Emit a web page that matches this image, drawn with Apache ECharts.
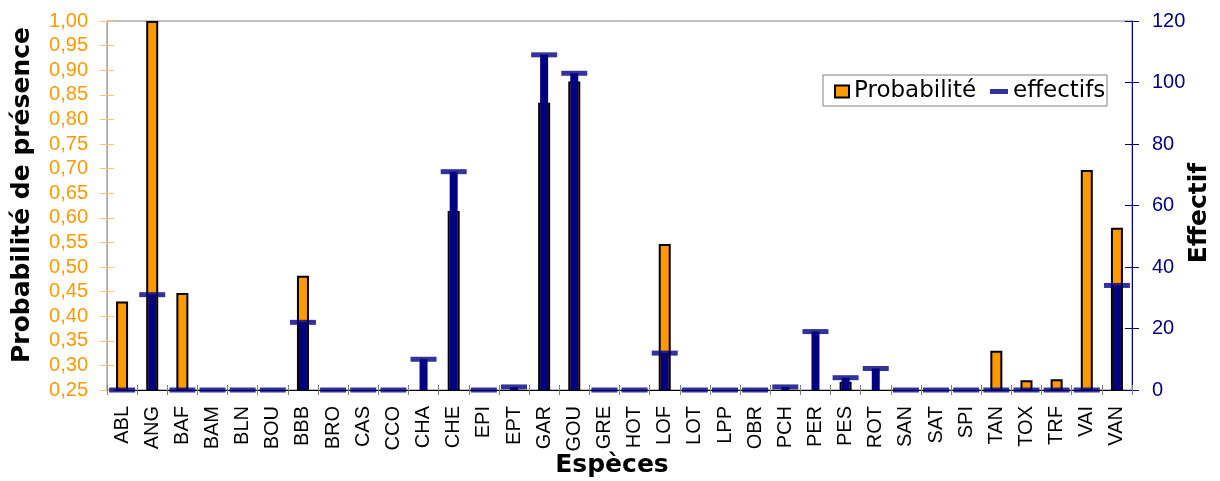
<!DOCTYPE html>
<html>
<head>
<meta charset="utf-8">
<script src="https://cdn.jsdelivr.net/npm/echarts@6/dist/echarts.min.js"></script>
<style>
html,body{margin:0;padding:0;background:#fff;}
#c{width:1220px;height:481px;}
</style>
</head>
<body>
<div id="c"></div>
<script>
var categories = ['ABL','ANG','BAF','BAM','BLN','BOU','BBB','BRO','CAS','CCO','CHA','CHE','EPI','EPT','GAR','GOU','GRE','HOT','LOF','LOT','LPP','OBR','PCH','PER','PES','ROT','SAN','SAT','SPI','TAN','TOX','TRF','VAI','VAN'];
var probabilite = [0.43,1.00,0.447,0,0,0,0.482,0,0,0,0.252,0.614,0,0.252,0.834,0.877,0,0,0.547,0,0,0,0.252,0.252,0.267,0.252,0,0,0,0.33,0.27,0.272,0.697,0.58];
var effectifs = [0,31,0,0,0,0,22,0,0,0,10,71,0,1,109,103,0,0,12,0,0,0,1,19,4,7,0,0,0,0,0,0,0,34];
var leftAxis = {min:0.25, max:1.00, step:0.05};
var rightAxis = {min:0, max:120, step:20};

var ORANGE = '#FF9900', NAVY = '#000080';
var tickFont = 'Liberation Sans, Arial, sans-serif';
var titleFont = 'DejaVu Sans, sans-serif';

var chart = echarts.init(document.getElementById('c'), null, {renderer:'canvas'});
chart.setOption({
  animation:false,
  backgroundColor:'#fff',
  grid:{left:107, right:88, top:21, bottom:91, show:true, borderColor:'#808080', borderWidth:1, backgroundColor:'transparent'},
  legend:[
    {data:[{name:'Probabilité', icon:'rect'}], left:834, top:80, padding:0, itemWidth:14, itemHeight:12,
     textStyle:{fontFamily:titleFont, fontSize:23, color:'#000'}, selectedMode:false},
    {data:[{name:'effectifs', icon:'rect'}], left:990, top:80, padding:0, itemWidth:18, itemHeight:5,
     textStyle:{fontFamily:titleFont, fontSize:23, color:'#000'}, selectedMode:false}
  ],
  graphic:[
    {type:'rect', z:-1, shape:{x:823, y:75, width:284, height:31}, style:{fill:'#fff', stroke:'#808080', lineWidth:1}},
    {type:'text', x:22, y:195, rotation:Math.PI/2, style:{text:'Probabilité de présence', font:'bold 25px DejaVu Sans', fill:'#000', textAlign:'center', textVerticalAlign:'middle'}},
    {type:'text', x:1199, y:213, rotation:Math.PI/2, style:{text:'Effectif', font:'bold 25px DejaVu Sans', fill:'#000', textAlign:'center', textVerticalAlign:'middle'}},
    {type:'text', x:612, y:465, style:{text:'Espèces', font:'bold 25px DejaVu Sans', fill:'#000', textAlign:'center', textVerticalAlign:'middle'}}
  ],
  xAxis:[
    {type:'category', data:categories, position:'bottom',
     axisLine:{show:true, lineStyle:{color:'#000', width:1}},
     axisTick:{show:true, alignWithLabel:false, interval:0, length:5, lineStyle:{color:'#808080'}},
     axisLabel:{interval:0, rotate:90, margin:16, fontFamily:tickFont, fontSize:20, color:'#000'}},
    {type:'category', data:categories, position:'bottom',
     axisLine:{show:false},
     axisTick:{show:true, inside:true, interval:0, length:5, lineStyle:{color:'#808080'}},
     axisLabel:{show:false}}
  ],
  yAxis:[
    {type:'value', position:'left', min:leftAxis.min, max:leftAxis.max, interval:leftAxis.step,
     axisLine:{show:true, lineStyle:{color:'#A8A8A8'}},
     axisTick:{show:true, length:7, lineStyle:{color:'#FFC46B'}},
     axisLabel:{margin:19, fontFamily:tickFont, fontSize:20, color:ORANGE, formatter:function(v){return v.toFixed(2).replace('.',',');}},
     splitLine:{show:false}},
    {type:'value', position:'right', min:rightAxis.min, max:rightAxis.max, interval:rightAxis.step,
     axisLine:{show:true, lineStyle:{color:NAVY}},
     axisTick:{show:true, length:7, lineStyle:{color:NAVY}},
     axisLabel:{margin:20, fontFamily:tickFont, fontSize:20, color:NAVY},
     splitLine:{show:false}},
    {type:'value', position:'left', min:leftAxis.min, max:leftAxis.max, interval:leftAxis.step,
     axisLine:{show:false}, axisTick:{show:true, inside:true, length:7, lineStyle:{color:'#FFC46B'}},
     axisLabel:{show:false}, splitLine:{show:false}},
    {type:'value', position:'right', min:rightAxis.min, max:rightAxis.max, interval:rightAxis.step,
     axisLine:{show:false}, axisTick:{show:true, inside:true, length:7, lineStyle:{color:NAVY}},
     axisLabel:{show:false}, splitLine:{show:false}}
  ],
  series:[
    {name:'Probabilité', type:'bar', xAxisIndex:0, yAxisIndex:0, data:probabilite, barWidth:12, z:2,
     itemStyle:{color:ORANGE, borderColor:'#000', borderWidth:2}},
    {name:'effBar', type:'bar', xAxisIndex:1, yAxisIndex:1, data:effectifs, barWidth:8, z:3,
     itemStyle:{color:NAVY}},
    {name:'effectifs', type:'scatter', xAxisIndex:0, yAxisIndex:1, data:effectifs, symbol:'rect', symbolSize:[26,5], z:4, clip:false,
     itemStyle:{color:NAVY}}
  ]
});
</script>
</body>
</html>
